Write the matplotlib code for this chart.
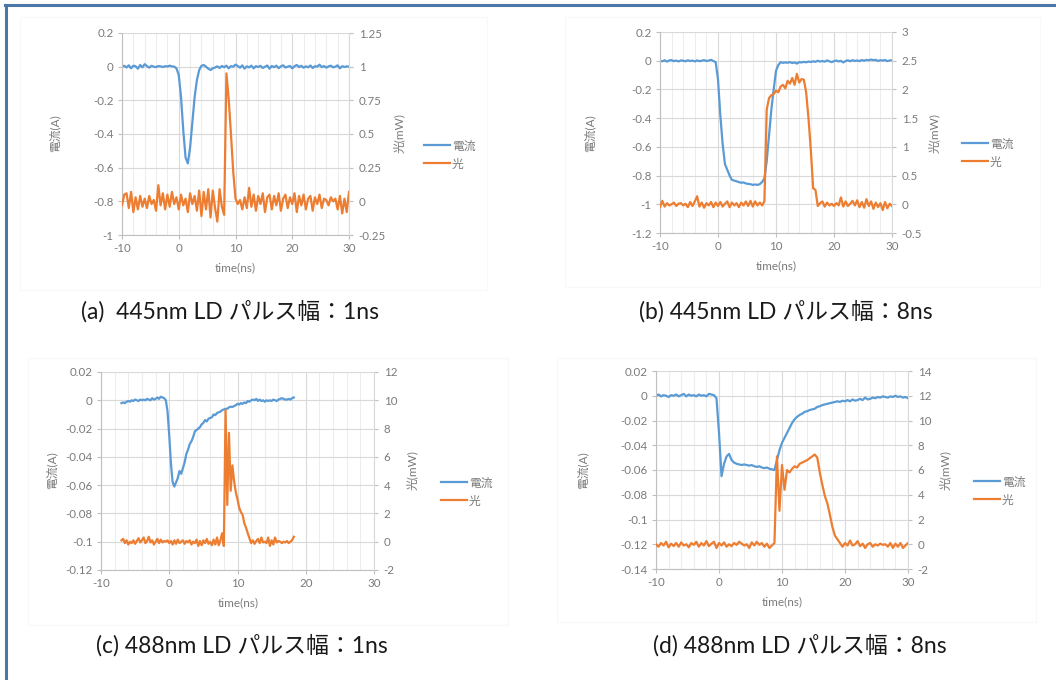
import numpy as np
import matplotlib.pyplot as plt
from matplotlib.lines import Line2D
from matplotlib.patches import Rectangle
from matplotlib.ticker import MultipleLocator, FuncFormatter

plt.rcParams['font.family'] = ['Lato', 'Noto Sans CJK JP', 'DejaVu Sans']
plt.rcParams['axes.unicode_minus'] = False

W, H = 1056, 680
BLUE = '#5B9BD5'
ORANGE = '#ED7D31'
TXT = '#7A7A7A'

# time axes (ns)
t_a = np.round(np.arange(101) * 0.4 - 10, 2)
t_b = t_a
t_c = np.round(np.arange(102) * 0.25 - 7, 2)
t_d = t_a

# (a) 445nm, 1ns
cur_a = [0.000, 0.005, -0.005, 0.008, -0.010, 0.006, 0.002, -0.012, 0.010, -0.004,
         0.015, 0.003, -0.006, 0.005, 0.000, -0.003, 0.004, 0.002, -0.002, 0.003,
         0.001, 0.006, 0.002,
         0.000, -0.010, -0.050, -0.180, -0.380, -0.540, -0.575, -0.480, -0.330, -0.180,
         -0.080, -0.020, 0.005, 0.010, 0.000, -0.012, -0.020, -0.010,
         -0.005, 0.002, -0.008, 0.004, -0.003, 0.006, -0.010, 0.003, 0.000, 0.012,
         0.004, -0.006, 0.008, -0.012, 0.002, -0.004, 0.006, -0.010, 0.003, -0.002,
         0.005, -0.008, 0.000, 0.007, -0.012, 0.004, -0.003, 0.006, -0.009, 0.002,
         0.008, -0.005, 0.000, 0.004, -0.010, 0.003, 0.010, -0.002, 0.005, -0.006,
         0.002, -0.004, 0.007, -0.008, 0.003, 0.000, 0.012, -0.003, 0.004, -0.006,
         0.002, 0.006, -0.004, 0.000, 0.008, -0.010, 0.003, -0.002, 0.002, 0.000]
light_a = [-0.03, 0.05, 0.06, -0.05, 0.07, -0.08, 0.03, -0.06, 0.04, -0.04,
           0.02, -0.05, 0.04, -0.02, 0.01, -0.07, 0.12, -0.03, 0.06, -0.06,
           0.05, -0.04, 0.07, -0.02, 0.03, -0.06, 0.05, -0.03, 0.02, -0.08,
           0.06, -0.02, 0.04, -0.07, 0.08, -0.11, 0.07, -0.06, 0.09, -0.12,
           0.08, -0.05, -0.15, 0.09, -0.04, -0.10,
           0.95, 0.76, 0.50, 0.22, 0.02,
           -0.02, 0.01, -0.06, 0.03, -0.05, 0.10, -0.04, 0.05, -0.07, 0.04,
           -0.02, 0.06, -0.08, 0.03, 0.05, -0.06, 0.04, -0.03, 0.06, -0.07,
           0.02, 0.05, -0.05, 0.03, -0.02, 0.06, -0.08, 0.04, -0.03, 0.05,
           -0.06, 0.02, 0.04, -0.07, 0.03, -0.02, 0.05, -0.05, 0.02, 0.01,
           -0.03, 0.03, 0.00, 0.02, -0.06, 0.04, -0.09, 0.02, -0.08, 0.07]

# (b) 445nm, 8ns
cur_b = [0.000, -0.004, 0.003, -0.006, 0.002, 0.004, -0.003, 0.001, -0.005, 0.002,
         0.000, -0.004, 0.003, -0.002, 0.001, -0.005, 0.002, -0.003, 0.000, 0.004,
         -0.002, 0.001, 0.006, -0.002,
         -0.010, -0.130, -0.380, -0.580, -0.720, -0.760, -0.800, -0.830, -0.835, -0.840,
         -0.845, -0.850, -0.848, -0.855, -0.858, -0.860, -0.865, -0.862, -0.865, -0.860,
         -0.845, -0.820, -0.700, -0.520, -0.340, -0.200, -0.070, -0.030, -0.010, -0.015,
         -0.012, -0.014, -0.010, -0.016, -0.012, -0.020, -0.010, -0.012, -0.008, -0.011,
         -0.006, -0.009, -0.004, -0.008, 0.000, -0.006, -0.002, -0.007, 0.002, -0.004,
         -0.010, -0.003, 0.001, -0.005, -0.001, -0.012, -0.002, 0.003, -0.004, 0.004,
         -0.002, 0.002, -0.003, 0.005, 0.000, 0.006, 0.003, 0.008, 0.004, 0.006,
         -0.002, 0.004, 0.001, 0.005, -0.003, 0.002, 0.003]
light_b = [-0.05, 0.06, -0.04, 0.02, -0.02, 0.00, 0.03, -0.03, 0.01, 0.02,
           -0.02, 0.01, -0.05, 0.04, -0.03, 0.05, 0.14, -0.04, 0.03, -0.06,
           0.02, -0.02, 0.04, -0.05, 0.03, -0.03, 0.04, -0.04, 0.01, 0.05,
           -0.05, 0.03, -0.02, 0.02, -0.05, 0.03, -0.02, 0.05, -0.03, 0.06,
           -0.04, 0.05, -0.02, 0.03, -0.02,
           0.05, 1.65, 1.85, 1.90, 1.92, 1.98, 1.95, 2.05, 2.08, 2.02,
           2.15, 2.10, 2.20, 2.08, 2.27, 2.12, 2.18, 2.17, 1.95, 1.50,
           0.95, 0.28, 0.25, -0.03,
           0.02, 0.05, -0.04, 0.03, -0.02, 0.01, -0.03, 0.02, -0.02, 0.12,
           -0.04, 0.05, -0.03, 0.01, 0.06, -0.02, 0.07, -0.05, 0.04, -0.06,
           0.09, -0.03, 0.05, -0.08, 0.03, -0.05, 0.02, -0.10, 0.04, -0.07,
           0.01, -0.03]

# (c) 488nm, 1ns
cur_c = [-0.002, -0.0015, -0.002, -0.001, -0.0005, -0.001, 0.0, -0.0005, 0.0005, 0.0,
         -0.0005, 0.0005, 0.0, 0.0005, 0.0, 0.001, 0.0005, 0.0, 0.0015, 0.0005,
         0.001, 0.002, 0.001, 0.0025, 0.002, 0.0015,
         0.0, -0.008, -0.025, -0.045, -0.058, -0.061, -0.058, -0.055, -0.050, -0.052,
         -0.048, -0.044, -0.038, -0.035, -0.031, -0.029, -0.026, -0.022, -0.021, -0.020,
         -0.019, -0.017, -0.016, -0.014, -0.015, -0.013, -0.0125, -0.012, -0.010, -0.0105,
         -0.009, -0.0085, -0.008, -0.007, -0.0065, -0.006, -0.006, -0.005, -0.0045, -0.0048,
         -0.004, -0.0035, -0.0025, -0.003, -0.002, -0.0025, -0.0015, -0.002, -0.0005, -0.001,
         0.0, 0.0005, 0.0, 0.001, -0.0005, 0.0005, -0.0005, 0.0, -0.001, 0.0,
         -0.0005, 0.0, -0.0005, 0.0005, 0.0, -0.0005, 0.0005, 0.001, 0.0015, 0.001,
         0.0005, 0.0005, 0.001, 0.0005, 0.0015, 0.002]
light_c = [0.1, 0.2, -0.1, 0.1, -0.2, 0.0, -0.1, 0.1, -0.15, 0.05,
           0.25, -0.05, 0.1, 0.3, -0.1, 0.05, 0.35, -0.05, 0.1, -0.2,
           0.0, 0.2, -0.1, 0.15, -0.05, 0.05, 0.0, 0.1, -0.1, 0.05,
           -0.2, 0.1, -0.15, 0.15, -0.1, 0.0, 0.1, -0.15, 0.05, -0.05,
           0.1, -0.2, 0.0, -0.1, 0.15, -0.3, 0.05, -0.25, 0.1, -0.1,
           0.2, -0.15, 0.0, -0.25, 0.15, -0.2, 0.3, -0.25, 0.1,
           0.6, -0.3, 9.3, 2.6, 7.7, 3.6, 5.4, 4.3, 3.5, 3.0,
           2.4, 2.1, 1.9, 1.3, 1.0, 0.6, 0.25, -0.1,
           0.1, -0.15, 0.05, 0.2, -0.1, 0.3, -0.05, 0.0, -0.1, 0.3,
           -0.3, 0.1, -0.2, 0.3, -0.05, 0.05, 0.0, -0.1, 0.0, -0.05,
           0.05, -0.1, 0.0, 0.1, 0.35]

# (d) 488nm, 8ns
cur_d = [0.0, 0.001, -0.0005, 0.0005, 0.0, -0.001, 0.0005, 0.0, 0.001, -0.0005,
         0.0005, 0.0015, -0.0005, 0.001, 0.0, 0.0005, -0.0005, 0.001, 0.0, 0.0005,
         -0.0005, 0.0015, 0.001, 0.0005, -0.002,
         -0.030, -0.065, -0.055, -0.049, -0.047, -0.052, -0.054, -0.055, -0.0555, -0.056,
         -0.0555, -0.056, -0.0565, -0.056, -0.057, -0.0575, -0.057, -0.058, -0.0585, -0.058,
         -0.059, -0.0595, -0.060, -0.052, -0.044, -0.038, -0.034, -0.030, -0.026, -0.022,
         -0.019, -0.017, -0.0155, -0.0145, -0.013, -0.0125, -0.0115, -0.011, -0.0105, -0.009,
         -0.0085, -0.0075, -0.007, -0.0065, -0.006, -0.0055, -0.005, -0.0045, -0.005, -0.004,
         -0.0045, -0.0035, -0.0045, -0.003, -0.004, -0.0035, -0.0025, -0.0035, -0.0015, -0.003,
         -0.0025, -0.0015, -0.002, -0.001, -0.0015, -0.0005, -0.001, -0.0015, -0.0005, -0.001,
         0.0, -0.001, -0.0005, -0.0015, -0.001, -0.002]
light_d = [0.0, -0.2, 0.1, -0.1, 0.2, -0.25, 0.05, -0.15, 0.1, -0.2,
           0.15, -0.1, 0.0, -0.25, 0.1, -0.05, 0.2, -0.2, 0.1, -0.1,
           0.25, -0.15, 0.05, 0.2, -0.3, 0.1, -0.1, 0.15, -0.2, 0.0,
           -0.15, 0.1, -0.05, 0.2, 0.05, -0.1, 0.0, -0.3, 0.15, -0.1,
           0.2, -0.05, 0.1, -0.2, 0.05, -0.3, -0.1,
           0.1, 7.1, 2.7, 6.4, 4.4, 6.0, 5.8, 6.1, 6.3, 6.2,
           6.5, 6.6, 6.7, 6.8, 6.95, 7.1, 7.25, 7.0, 5.8, 4.8,
           3.9, 3.3, 2.4, 1.4, 0.7, 0.4, 0.1,
           -0.2, 0.1, -0.1, 0.3, -0.1, 0.0, 0.25, -0.15, 0.05, -0.3,
           0.0, 0.1, -0.2, 0.0, -0.1, 0.05, -0.05, 0.0, -0.2, 0.1,
           -0.3, 0.05, -0.2, 0.1, -0.3, -0.1, 0.1]

captions = ['(a)  445nm LD パルス幅：1ns', '(b) 445nm LD パルス幅：8ns',
            '(c) 488nm LD パルス幅：1ns', '(d) 488nm LD パルス幅：8ns']


def fmt(v, pos):
    v = round(v, 6)
    if abs(v) < 1e-9:
        return '0'
    return f'{v:g}'


def px(x, y):
    return x / W, 1 - y / H


fig = plt.figure(figsize=(W / 100, H / 100), dpi=100)

# faint chart-area outlines
for (x0, y0, x1, y1) in [(20, 17, 487, 290), (565, 17, 1040, 287),
                         (28, 358, 508, 625), (557, 358, 1036, 622)]:
    fig.add_artist(Rectangle(px(x0, y1), (x1 - x0) / W, (y1 - y0) / H,
                             transform=fig.transFigure, fill=False,
                             ec='#F8F8F8', lw=0.8))

panels = [
    dict(box=(122, 33, 349, 235), t1=t_a, y1=cur_a, t2=t_a, y2=light_a,
         l=(-1, 0.2, 0.2), r=(-0.25, 1.25, 0.25),
         yl=(55, 133), yr=(399, 133), leg=(424, 155), xl=(235, 268), cap=(230, 311)),
    dict(box=(660, 32, 892, 233), t1=t_b, y1=cur_b, t2=t_b, y2=light_b,
         l=(-1.2, 0.2, 0.2), r=(-0.5, 3, 0.5),
         yl=(590, 133), yr=(934, 133), leg=(962, 153), xl=(776, 266), cap=(786, 311)),
    dict(box=(101, 372, 374, 570), t1=t_c, y1=cur_c, t2=t_c, y2=light_c,
         l=(-0.12, 0.02, 0.02), r=(-2, 12, 2),
         yl=(52, 470), yr=(412, 470), leg=(441, 492), xl=(238, 603), cap=(242, 645)),
    dict(box=(656, 371, 908, 569), t1=t_d, y1=cur_d, t2=t_d, y2=light_d,
         l=(-0.14, 0.02, 0.02), r=(-2, 14, 2),
         yl=(583, 470), yr=(945, 470), leg=(974, 491), xl=(782, 602), cap=(800, 645)),
]

for p, cap in zip(panels, captions):
    x0, y0, x1, y1 = p['box']
    ax = fig.add_axes([x0 / W, 1 - y1 / H, (x1 - x0) / W, (y1 - y0) / H])
    h1, = ax.plot(p['t1'], p['y1'], color=BLUE, lw=1.6, label='電流')
    ax.set_xlim(-10, 30)
    ax.set_ylim(p['l'][0], p['l'][1])
    ax.xaxis.set_major_locator(MultipleLocator(10))
    ax.xaxis.set_minor_locator(MultipleLocator(2))
    ax.yaxis.set_major_locator(MultipleLocator(p['l'][2]))
    ax.yaxis.set_major_formatter(FuncFormatter(fmt))
    ax.grid(which='major', color='#D9D9D9', lw=0.8)
    ax.grid(which='minor', axis='x', color='#EDEDED', lw=0.8)
    ax.set_axisbelow(True)
    for s in ['top', 'right']:
        ax.spines[s].set_visible(False)
    for s in ['left', 'bottom']:
        ax.spines[s].set_color('#BFBFBF')
        ax.spines[s].set_linewidth(0.8)
    ax.tick_params(which='major', length=3, width=0.8, color='#BFBFBF',
                   labelsize=8.3, labelcolor=TXT, pad=3)
    ax.tick_params(which='minor', length=0)

    ax2 = ax.twinx()
    h2, = ax2.plot(p['t2'], p['y2'], color=ORANGE, lw=1.6, label='光')
    ax2.set_ylim(p['r'][0], p['r'][1])
    ax2.yaxis.set_major_locator(MultipleLocator(p['r'][2]))
    ax2.yaxis.set_major_formatter(FuncFormatter(fmt))
    for s in ['top', 'left', 'bottom']:
        ax2.spines[s].set_visible(False)
    ax2.spines['right'].set_color('#D9D9D9')
    ax2.spines['right'].set_linewidth(0.8)
    ax2.tick_params(length=3, width=0.8, color='#BFBFBF',
                    labelsize=8.3, labelcolor=TXT, pad=4)

    fig.text(*px(*p['yl']), '電流(A)', rotation=90, ha='center', va='center',
             fontsize=8.5, color=TXT)
    fig.text(*px(*p['yr']), '光(mW)', rotation=90, ha='center', va='center',
             fontsize=8.5, color=TXT)
    fig.text(*px(*p['xl']), 'time(ns)', ha='center', va='center',
             fontsize=8.5, color=TXT)
    ax.legend(handles=[h1, h2], loc='center left', bbox_to_anchor=px(*p['leg']),
              bbox_transform=fig.transFigure, frameon=False, fontsize=8.5,
              labelcolor=TXT, handlelength=2.2, handletextpad=0.15,
              labelspacing=0.6, borderpad=0, borderaxespad=0)
    fig.text(*px(*p['cap']), cap, ha='center', va='center', fontsize=16.5,
             color='#1A1A1A')

# blue outer frame (top and left edges)
fig.add_artist(Line2D([5 / W, 1], [1 - 5 / H, 1 - 5 / H], transform=fig.transFigure,
                      color='#4A77A8', lw=2.2))
fig.add_artist(Line2D([6 / W, 6 / W], [0, 1 - 5 / H], transform=fig.transFigure,
                      color='#4A77A8', lw=2.2))

fig.savefig('out.png', dpi=100, facecolor='white')
